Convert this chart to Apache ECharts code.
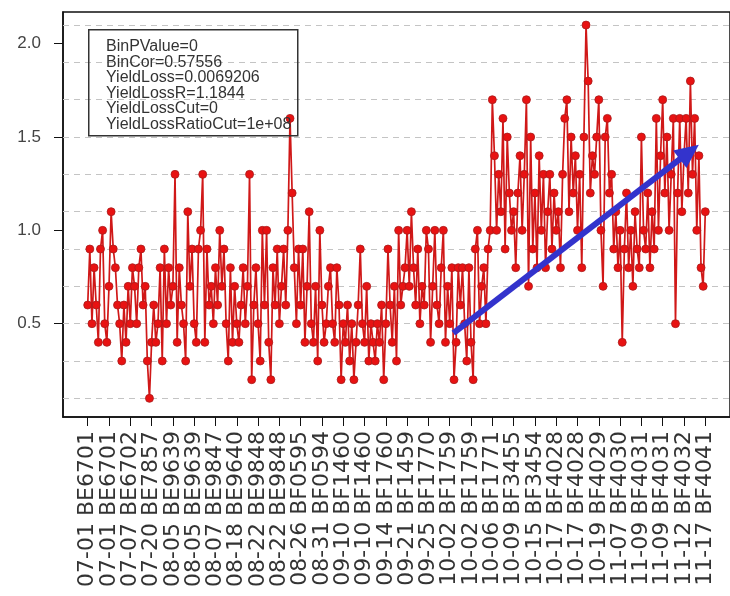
<!DOCTYPE html>
<html>
<head>
<meta charset="utf-8">
<script src="https://cdn.jsdelivr.net/npm/echarts@6/dist/echarts.min.js"></script>
<style>
html,body{margin:0;padding:0;background:#fff;}
#chart{width:730px;height:596px;}
</style>
</head>
<body>
<div id="chart"></div>
<script>
// Tick labels along the x axis (one every labelStep points)
const xLabels = [
  "07-01 BE6701","07-01 BE6701","07-07 BE6702","07-20 BE7857","08-05 BE9639",
  "08-05 BE9639","08-07 BE9847","08-18 BE9640","08-22 BE9848","08-22 BE9848",
  "08-26 BF0595","08-31 BF0594","09-10 BF1460","09-10 BF1460","09-14 BF1760",
  "09-21 BF1459","09-25 BF1770","10-02 BF1759","10-02 BF1759","10-06 BF1771",
  "10-09 BF3455","10-15 BF3454","10-17 BF4028","10-17 BF4028","10-19 BF4029",
  "11-07 BF4030","11-09 BF4031","11-09 BF4031","11-12 BF4032","11-17 BF4041"
];
const labelStep = 10;

// Series values (one per lot, in order)
const values = [
  0.6,0.9,0.5,0.8,0.6,0.4,0.9,1.0,0.5,0.4,
  0.7,1.1,0.9,0.8,0.6,0.5,0.3,0.6,0.4,0.7,
  0.5,0.8,0.7,0.5,0.8,0.9,0.6,0.7,0.3,0.1,
  0.4,0.6,0.4,0.5,0.8,0.3,0.9,0.5,0.8,0.6,
  0.7,1.3,0.4,0.8,0.6,0.5,0.3,1.1,0.7,0.9,
  0.5,0.4,0.9,1.0,1.3,0.4,0.9,0.6,0.7,0.5,
  0.8,0.6,1.0,0.7,0.9,0.5,0.3,0.8,0.4,0.7,
  0.5,0.4,0.6,0.8,0.5,0.7,1.3,0.2,0.6,0.8,
  0.5,0.3,1.0,0.6,1.0,0.4,0.2,0.8,0.6,0.9,
  0.5,0.7,0.9,0.6,1.0,1.6,1.2,0.8,0.5,0.9,
  0.6,0.9,0.4,0.7,1.1,0.5,0.4,0.7,0.3,1.0,
  0.6,0.4,0.5,0.7,0.8,0.5,0.4,0.8,0.6,0.2,
  0.5,0.4,0.6,0.3,0.5,0.2,0.4,0.6,0.9,0.5,
  0.4,0.7,0.3,0.5,0.4,0.3,0.5,0.4,0.6,0.2,
  0.5,0.9,0.6,0.4,0.7,0.3,1.0,0.6,0.7,0.8,
  1.0,0.7,1.1,0.8,0.6,0.9,0.5,0.7,0.6,1.0,
  0.9,0.4,0.7,1.0,0.6,0.5,0.8,1.0,0.4,0.7,
  0.5,0.8,0.2,0.4,0.8,0.6,0.8,0.5,0.3,0.8,
  0.4,0.2,0.9,1.0,0.5,0.7,0.8,0.5,0.9,1.0,
  1.7,1.4,1.0,1.3,1.1,1.6,0.9,1.5,1.2,1.0,
  1.1,0.8,1.2,1.4,1.0,1.3,1.7,0.7,1.5,0.9,
  1.2,0.8,1.4,1.0,1.3,0.8,1.1,1.3,0.9,1.2,
  1.0,1.1,0.8,1.3,1.6,1.7,1.1,1.5,1.2,1.4,
  1.0,1.3,0.8,1.5,2.1,1.8,1.2,1.4,1.3,1.5,
  1.7,1.0,0.7,1.5,1.6,1.2,1.3,0.9,1.1,0.8,
  1.0,0.4,0.9,1.2,0.8,1.0,0.7,1.1,0.9,0.8,
  1.5,1.0,0.9,1.2,0.8,1.1,0.9,1.6,1.0,1.4,
  1.7,1.2,1.5,1.0,1.3,1.6,0.5,1.2,1.6,1.1,
  1.4,1.6,1.2,1.8,1.3,1.6,1.0,1.4,0.8,0.7,
  1.1
];

// Dashed reference lines and y tick labels
const gridValues = [0.1,0.3,0.5,0.7,0.9,1.1,1.3,1.5,1.7,1.9,2.1];
const yTicks = [0.5,1.0,1.5,2.0];

// Statistics box text
const statLines = [
  "BinPValue=0",
  "BinCor=0.57556",
  "YieldLoss=0.0069206",
  "YieldLossR=1.1844",
  "YieldLossCut=0",
  "YieldLossRatioCut=1e+08"
];

// Trend arrow endpoints, in data units [index, value]
const trendStart = [171.7, 0.45];
const trendEnd = [282.5, 1.42];

const n = values.length;
const pad = (n - 1) * 0.04;
const seriesData = values.map((v, i) => [i, v]);
const evenTicks = xLabels.map((_, k) => k * labelStep).filter((_, k) => k % 2 === 0);
const oddTicks = xLabels.map((_, k) => k * labelStep).filter((_, k) => k % 2 === 1);

const chart = echarts.init(document.getElementById('chart'), null, {renderer: 'canvas'});
const FONT = '"Liberation Sans", Arial, Helvetica, sans-serif';
const WIDE = '"DejaVu Sans", Verdana, sans-serif';

function makeXAxis(ticks, showLine) {
  return {
    type: 'value', gridIndex: 0, position: 'bottom', offset: 0,
    min: -pad, max: (n - 1) + pad,
    axisLine: {show: showLine, onZero: false, lineStyle: {color: '#111', width: 1.5}},
    axisTick: {show: true, length: 9, customValues: ticks, lineStyle: {color: '#111', width: 1}},
    axisLabel: {
      show: true, rotate: 90, margin: 14, fontSize: 22, color: '#333', fontFamily: WIDE,
      showMinLabel: true, showMaxLabel: true, hideOverlap: false,
      customValues: ticks,
      formatter: (v) => xLabels[Math.round(v / labelStep)] || ''
    },
    splitLine: {show: false}
  };
}

chart.setOption({
  animation: false,
  backgroundColor: '#ffffff',
  grid: {
    left: 63, top: 12, width: 675, bottom: 179,
    show: true, borderColor: '#111', borderWidth: 1.5, backgroundColor: 'transparent'
  },
  xAxis: [makeXAxis(evenTicks, true), makeXAxis(oddTicks, false)],
  yAxis: {
    type: 'value',
    min: 0, max: 2.17,
    axisLine: {show: true, onZero: false, lineStyle: {color: '#111', width: 1.5}},
    axisTick: {show: true, length: 9, customValues: yTicks, lineStyle: {color: '#111', width: 1}},
    axisLabel: {
      show: true, margin: 22, fontSize: 17, color: '#444', fontFamily: FONT,
      customValues: yTicks,
      formatter: (v) => v.toFixed(1)
    },
    splitLine: {show: false}
  },
  graphic: [
    {
      type: 'rect', left: 88, top: 29, z: 50,
      shape: {width: 209, height: 106},
      style: {fill: 'transparent', stroke: '#333', lineWidth: 1.5}
    },
    {
      type: 'text', left: 106, top: 39, z: 50,
      style: {
        text: statLines.join('\n'),
        font: '16px ' + FONT,
        lineHeight: 15.5,
        fill: '#333'
      }
    }
  ],
  series: [
    {
      name: 'grid', type: 'line', data: [], z: 1, silent: true, xAxisIndex: 0,
      markLine: {
        silent: true, symbol: 'none', z: 1, animation: false,
        label: {show: false},
        lineStyle: {color: '#c4c4c4', type: [6, 5], width: 1},
        data: gridValues.map(v => ({yAxis: v}))
      }
    },
    {
      name: 'value', type: 'line', data: seriesData, z: 5, xAxisIndex: 0,
      showSymbol: true, symbol: 'circle', symbolSize: 8,
      lineStyle: {color: '#d01818', width: 1.7},
      itemStyle: {color: '#e81212', borderColor: '#a81c1c', borderWidth: 0.8},
      markLine: {
        silent: true, z: 20, animation: false,
        symbol: ['none', 'triangle'], symbolSize: [22, 24],
        label: {show: false},
        lineStyle: {color: '#3333cc', width: 6, type: 'solid'},
        data: [[{coord: trendStart}, {coord: trendEnd}]]
      }
    }
  ]
});
</script>
</body>
</html>
